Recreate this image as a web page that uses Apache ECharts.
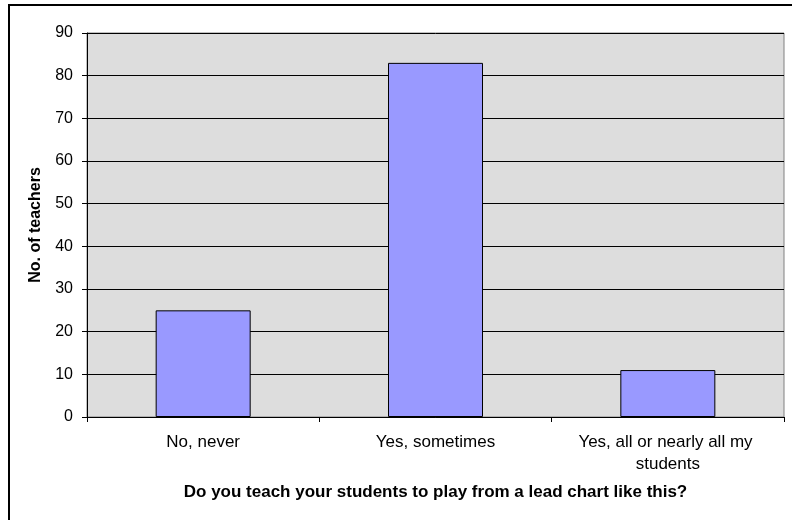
<!DOCTYPE html>
<html><head><meta charset="utf-8">
<script src="https://cdn.jsdelivr.net/npm/echarts@6/dist/echarts.min.js"></script>
<style>html,body{margin:0;padding:0;background:#fff}#c{width:792px;height:520px}</style>
</head><body><div id="c"></div>
<script>
const categories = ["No, never", "Yes, sometimes", "Yes, all or nearly all my students"];
const teachers = [25, 83, 11];
const yTicks = {min: 0, max: 90, interval: 10};
const xTitle = "Do you teach your students to play from a lead chart like this?";
const yTitle = "No. of teachers";

const font = "'Liberation Sans', Arial, sans-serif";
const chart = echarts.init(document.getElementById('c'), null, {renderer: 'canvas'});
chart.setOption({
  animation: false,
  backgroundColor: '#ffffff',
  graphic: [{
    type: 'rect', shape: {x: 9, y: 5, width: 800, height: 600},
    style: {fill: 'none', stroke: '#000', lineWidth: 2}, z: 0
  }],
  grid: {left: 87, right: 8, top: 33, bottom: 103, show: true,
    backgroundColor: '#DDDDDD', borderColor: '#808080', borderWidth: 1},
  xAxis: {
    type: 'category', data: categories, boundaryGap: true,
    axisLine: {lineStyle: {color: '#000', width: 1}},
    axisTick: {show: true, length: 5, alignWithLabel: false, lineStyle: {color: '#000'}},
    axisLabel: {interval: 0, margin: 14, color: '#000', fontSize: 17, fontFamily: font,
      width: 195, overflow: 'break', lineHeight: 22},
    name: xTitle, nameLocation: 'middle', nameGap: 67,
    nameTextStyle: {color: '#000', fontSize: 17, fontWeight: 'bold', fontFamily: font}
  },
  yAxis: {
    type: 'value', min: yTicks.min, max: yTicks.max, interval: yTicks.interval,
    axisLine: {show: true, lineStyle: {color: '#000', width: 1}},
    axisTick: {show: true, length: 5, lineStyle: {color: '#000'}},
    axisLabel: {margin: 14, color: '#000', fontSize: 16, fontFamily: font},
    splitLine: {show: true, lineStyle: {color: '#000', width: 1}},
    name: yTitle, nameLocation: 'middle', nameGap: 43, nameRotate: 90,
    nameTextStyle: {color: '#000', fontSize: 16, fontWeight: 'bold', fontFamily: font}
  },
  series: [{
    type: 'bar', data: teachers, barWidth: 95,
    itemStyle: {color: '#9999FF', borderColor: '#000', borderWidth: 1}
  }]
});
</script></body></html>
